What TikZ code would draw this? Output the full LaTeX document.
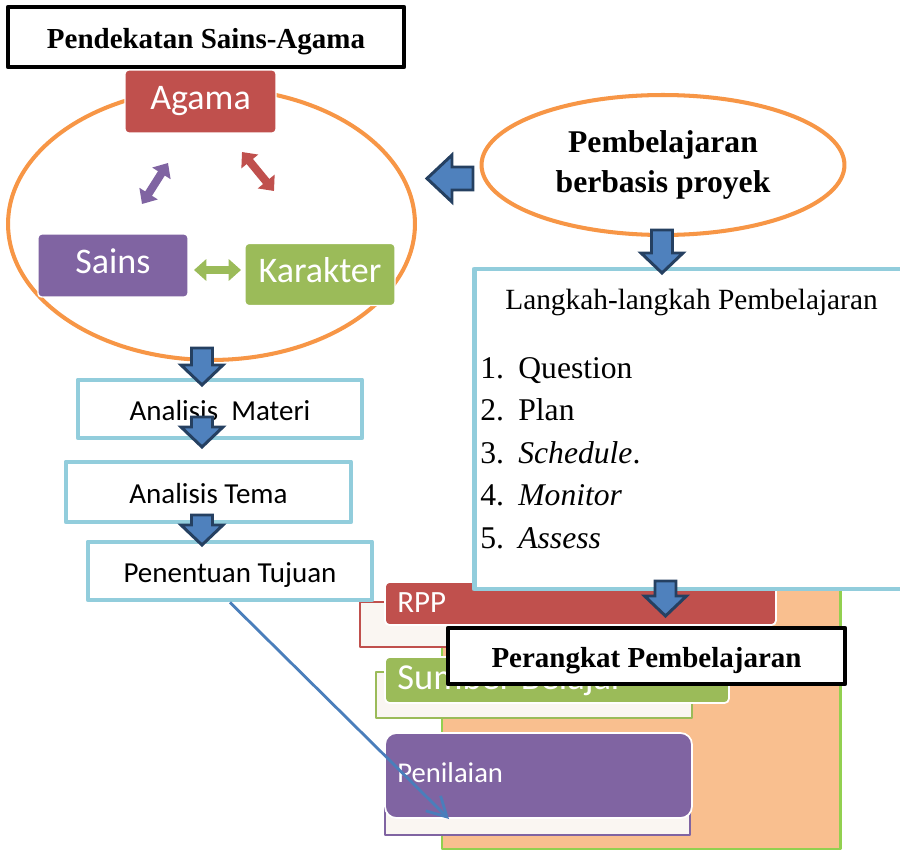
\documentclass[tikz,border=0pt]{standalone}
\usepackage{fontspec}
\setmainfont{Liberation Serif}
\newfontfamily\calib{Carlito}
\usetikzlibrary{shapes.geometric, arrows.meta}

\definecolor{agred}{HTML}{C0504D}
\definecolor{snpurple}{HTML}{8064A2}
\definecolor{krgreen}{HTML}{9BBB59}
\definecolor{ringorange}{HTML}{F79646}
\definecolor{boxblue}{HTML}{92CDDC}
\definecolor{blkfill}{HTML}{4F81BD}
\definecolor{blkdark}{HTML}{254061}
\definecolor{peach}{HTML}{F9BF8F}
\definecolor{limegreen}{HTML}{92D050}
\definecolor{shadowfill}{HTML}{FAF6F2}
\definecolor{linkblue}{HTML}{4A7EBB}

% block arrow pointing down: centre x, top y, tip y
\newcommand{\downblk}[3]{%
  \filldraw[blkarrow] (#1-10.5,#2) -- (#1+10.5,#2) -- (#1+10.5,#3-20) -- (#1+21,#3-20)
    -- (#1,#3) -- (#1-21,#3-20) -- (#1-10.5,#3-20) -- cycle;}

\begin{document}
\begin{tikzpicture}[x=0.02cm, y=-0.02cm, line join=round,
    heading/.style={draw=black, line width=2.5pt, fill=white, inner sep=0pt,
      text height=13pt, text depth=0pt, font=\bfseries\fontsize{16.5}{20}\selectfont},
    topic/.style={draw=white, line width=0.8pt, rounded corners=2pt, text=white, inner sep=0pt,
      text height=13pt, text depth=4pt, font=\calib\fontsize{20.5}{24}\selectfont},
    stepbox/.style={draw=boxblue, line width=2.8pt, fill=white, inner sep=0pt,
      text height=13.5pt, text depth=0pt, font=\calib\fontsize{16.5}{20}\selectfont},
    ring/.style={ellipse, draw=ringorange, line width=2.3pt, fill=white},
    twoway/.style={line width=4.6pt, {Triangle[length=7pt,width=12pt]}-{Triangle[length=7pt,width=12pt]}},
    blkarrow/.style={fill=blkfill, draw=blkdark, line width=1.7pt, line join=miter},
    bar/.style={draw=white, line width=1pt, rounded corners=2.5pt, inner sep=0pt},
    bartext/.style={text=white, anchor=base west, inner sep=0pt},
    shadowbox/.style={fill=shadowfill, line width=1.2pt},
    item/.style={anchor=base west, inner sep=0pt, font=\fontsize{18}{22}\selectfont}]

    \useasboundingbox (0,0) rectangle (900,851);

    \coordinate (sa1) at (142,204);  % Sains - Agama
    \coordinate (sa2) at (168,163);
    \coordinate (ak1) at (242,152);  % Agama - Karakter
    \coordinate (ak2) at (274,191);
    \coordinate (sk1) at (194,270);  % Sains - Karakter
    \coordinate (sk2) at (241,270);
    \coordinate (tip) at (449,819);

    % Science-religion approach
    \node[heading, minimum width=7.92cm, minimum height=1.2cm] (approach) at (206,37) {Pendekatan Sains-Agama};
    \node[ring, minimum width=8.14cm, minimum height=5.44cm] (cycle) at (211.5,224) {};

    \draw[twoway, snpurple] (sa1) -- (sa2);
    \draw[twoway, agred] (ak1) -- (ak2);
    \draw[twoway, krgreen] (sk1) -- (sk2);

    \node[topic, fill=agred, minimum width=3.02cm, minimum height=1.26cm] (agama) at (200.5,101.5) {Agama};
    \node[topic, fill=snpurple, minimum width=3.0cm, minimum height=1.26cm] (sains) at (113,265.5) {Sains};
    \node[topic, fill=krgreen, minimum width=3.0cm, minimum height=1.24cm] (karakter) at (320,274.5) {Karakter};

    % Project based learning
    \node[ring, minimum width=7.26cm, minimum height=2.8cm, align=center,
      font=\bfseries\fontsize{18}{22.8}\selectfont] (pjbl) at (663,165) {Pembelajaran\\berbasis proyek};
    \filldraw[blkarrow] (473,167) -- (452,167) -- (452,155) -- (427,178.5) -- (452,202)
      -- (452,190) -- (473,190) -- cycle;

    % Learning tools
    \fill[peach] (442,585) rectangle (840,849);
    \draw[limegreen, line width=1.7pt] (442,585) -- (442,849) -- (840,849) -- (840,585);

    \draw[shadowbox, draw=agred] (360,602) rectangle (700,647);
    \node[bar, fill=agred, minimum width=7.82cm, minimum height=0.86cm] (rpp) at (580.5,603.5) {};
    \node[bartext, font=\calib\fontsize{17.6}{20}\selectfont] (rpptext) at (397,612) {RPP};

    \draw[shadowbox, draw=krgreen] (376,672) rectangle (692,718);
    \node[bar, fill=krgreen, minimum width=6.88cm, minimum height=0.92cm] (sumber) at (557,680) {};
    \node[bartext, font=\calib\fontsize{20.8}{24}\selectfont] (sumbertext) at (397,689) {Sumber Belajar};

    \draw[shadowbox, draw=snpurple] (385,790) rectangle (690,835);
    \node[bar, fill=snpurple, rounded corners=6.5pt, minimum width=6.14cm, minimum height=1.7cm] (nilai) at (538.5,775.5) {};
    \node[bartext, font=\calib\fontsize{16.3}{20}\selectfont] (nilaitext) at (397,782) {Penilaian};

    % Learning steps
    \node[stepbox, minimum width=8.62cm, minimum height=6.4cm] (steps) at (689.5,429) {};
    \node[anchor=base, inner sep=0pt, font=\fontsize{16.7}{20}\selectfont] (stepstitle) at (691.5,310) {Langkah-langkah Pembelajaran};
    \foreach \itm [count=\k] in {Question, Plan, \textit{Schedule}., \textit{Monitor}, \textit{Assess}} {
      \node[item] (num\k) at (480, 335.5+42.5*\k) {\k.};
      \node[item] (itm\k) at (518, 335.5+42.5*\k) {\itm};
    }

    % Analysis chain
    \node[stepbox, minimum width=5.68cm, minimum height=1.16cm] (materi) at (220,409) {Analisis\ \ Materi};
    \node[stepbox, minimum width=5.7cm, minimum height=1.2cm] (tema) at (208.5,492) {Analisis Tema};
    \node[stepbox, minimum width=5.68cm, minimum height=1.16cm] (tujuan) at (230,571) {Penentuan Tujuan};

    \node[heading, minimum width=7.94cm, minimum height=1.12cm] (tools) at (646.5,656) {Perangkat Pembelajaran};

    % Block arrows
    \downblk{202}{348}{385}
    \downblk{202}{417}{447}
    \downblk{202}{515}{545}
    \downblk{662}{230}{273}
    \downblk{665.5}{581}{616}

    \draw[linkblue, line width=1.6pt, -{Straight Barb[length=11pt,width=12pt]}] (tujuan.south) -- (tip);
\end{tikzpicture}
\end{document}
